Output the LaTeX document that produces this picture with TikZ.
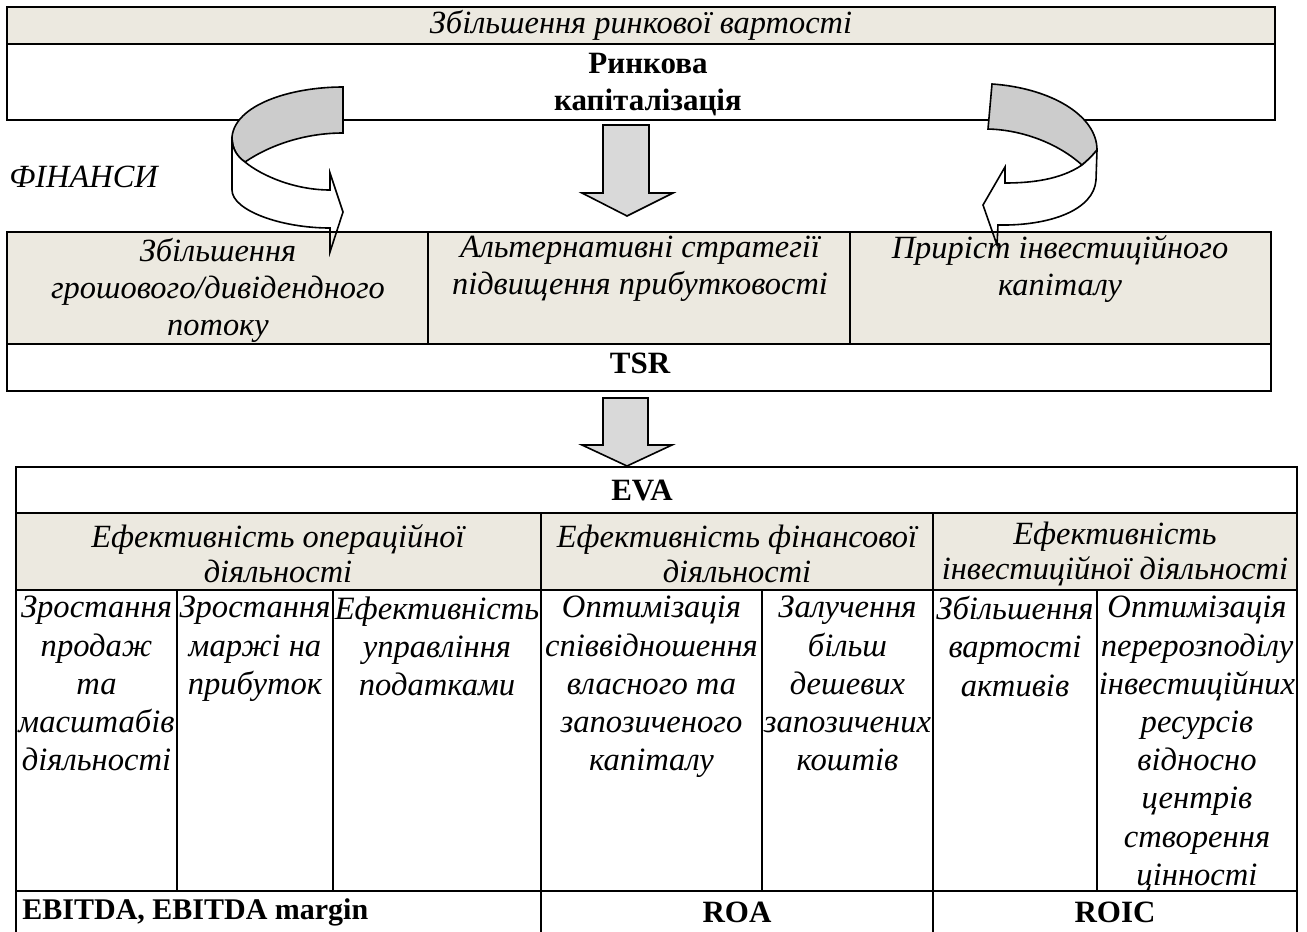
\documentclass[tikz,border=0pt]{standalone}
\usepackage{fontspec}
\setmainfont{Liberation Serif}
\definecolor{cellbeige}{RGB}{236,233,224}
\definecolor{backgray}{RGB}{204,204,204}
\definecolor{shaftgray}{RGB}{217,217,217}
\begin{document}
\begin{tikzpicture}[x=0.5pt,y=-0.5pt,
  frame/.style={line width=1.4pt},
  divider/.style={line width=1pt},
  itx/.style={font=\fontsize{16.2}{18.5}\selectfont\itshape, inner sep=0pt, align=center},
  headtx/.style={font=\fontsize{16.2}{17.5}\selectfont\itshape, inner sep=0pt, align=center},
  btx/.style={font=\fontsize{15.5}{18.5}\selectfont\bfseries, inner sep=0pt, align=center},
  subcell/.style={inner sep=0pt, align=center, anchor=north, font=\fontsize{16.3}{19.1}\selectfont\itshape},
  bendarrow/.style={line width=0.8pt, line join=miter},
  downarrow/.style={line width=0.8pt, fill=shaftgray, line join=miter},
]
\useasboundingbox (0,0) rectangle (1307,932);

% ---------- market value block ----------
\fill[cellbeige] (7,7) rectangle (1275,44);
\draw[frame] (7,7) rectangle (1275,120);
\draw[frame] (7,44) -- (1275,44);
\node[itx] (growth) at (641,25) {Збільшення ринкової вартості};
\node[btx] (mcap) at (648,85) {Ринкова\\капіталізація};

\node[itx, anchor=west] (finance) at (9,177) {ФІНАНСИ};

% ---------- left bent arrow ----------
\path[bendarrow, fill=backgray, draw=black]
  (343,87) .. controls (290,87) and (235,105) .. (232,137)
  .. controls (232,150) and (238,157) .. (245,162)
  .. controls (270,145) and (305,133) .. (343,133) -- cycle;
\path[bendarrow, fill=white]
  (245,162) .. controls (262,176) and (295,190) .. (330,190)
  -- (330,173) -- (343,212) -- (330,252) -- (330,228)
  .. controls (280,228) and (232,210) .. (232,190)
  -- (232,137) .. controls (232,150) and (238,157) .. (245,162) -- cycle;

% ---------- right bent arrow ----------
\path[bendarrow, fill=backgray, draw=black]
  (992,84) .. controls (1050,88) and (1097,115) .. (1097,150)
  .. controls (1093,155) and (1088,160) .. (1082,165)
  .. controls (1060,145) and (1025,130) .. (988,129) -- cycle;
\path[bendarrow, fill=white]
  (1082,165) .. controls (1060,180) and (1030,183) .. (1005,183)
  -- (1005,167) -- (983,205) -- (997,245) -- (998,225)
  .. controls (1050,226) and (1094,210) .. (1096,180)
  -- (1097,150) .. controls (1093,155) and (1088,160) .. (1082,165) -- cycle;

% ---------- centre arrow ----------
\draw[downarrow] (603,125) -- (649,125) -- (649,193) -- (673,193)
  -- (627,216) -- (582,193) -- (603,193) -- cycle;

% ---------- TSR block ----------
\fill[cellbeige] (7,232) rectangle (1271,344);
% front outlines of the bent arrows stay visible over the cells
\draw[bendarrow]
  (245,162) .. controls (262,176) and (295,190) .. (330,190)
  -- (330,173) -- (343,212) -- (330,252) -- (330,228)
  .. controls (280,228) and (232,210) .. (232,190)
  -- (232,137) .. controls (232,150) and (238,157) .. (245,162) -- cycle;
\draw[bendarrow]
  (1082,165) .. controls (1060,180) and (1030,183) .. (1005,183)
  -- (1005,167) -- (983,205) -- (997,245) -- (998,225)
  .. controls (1050,226) and (1094,210) .. (1096,180)
  -- (1097,150) .. controls (1093,155) and (1088,160) .. (1082,165) -- cycle;
\draw[frame] (7,232) rectangle (1271,391);
\draw[frame] (7,344) -- (1271,344);
\draw[divider] (428,232) -- (428,344);
\draw[divider] (850,232) -- (850,344);
\node[itx] (cashflow) at (218,290) {Збільшення\\грошового/дивідендного\\потоку};
\node[itx] (altstrat) at (640,269) {Альтернативні стратегії\\підвищення прибутковості};
\node[itx] (invcap) at (1060,269) {Приріст інвестиційного\\капіталу};
\node[btx] (tsr) at (640,363) {TSR};

% ---------- lower arrow ----------
\draw[downarrow] (603,398) -- (648,398) -- (648,445) -- (672,445)
  -- (627,466) -- (582,445) -- (603,445) -- cycle;

% ---------- EVA table ----------
\fill[cellbeige] (16,513) rectangle (1297,590);
\draw[frame] (16,940) -- (16,467) -- (1297,467) -- (1297,940);
\draw[frame] (16,513) -- (1297,513);
\draw[frame] (16,590) -- (1297,590);
\draw[frame] (16,891) -- (1297,891);
\draw[divider] (541,513) -- (541,940);
\draw[divider] (933,513) -- (933,940);
\draw[divider] (177,590) -- (177,891);
\draw[divider] (333,590) -- (333,891);
\draw[divider] (762,590) -- (762,891);
\draw[divider] (1097,590) -- (1097,891);

\node[btx] (eva) at (642,490) {EVA};
\node[headtx] (opeff) at (278,554) {Ефективність операційної\\діяльності};
\node[headtx] (fineff) at (737,554) {Ефективність фінансової\\діяльності};
\node[headtx] (inveff) at (1115,554) {Ефективність\\інвестиційної діяльності};

\node[subcell] (sales) at (96.5,596) {Зростання\\продаж\\та\\масштабів\\діяльності};
\node[subcell] (margin) at (255,596) {Зростання\\маржі на\\прибуток};
\node[subcell] (tax) at (437,596) {Ефективність\\управління\\податками};
\node[subcell] (leverage) at (651.5,596) {Оптимізація\\співвідношення\\власного та\\запозиченого\\капіталу};
\node[subcell] (cheapdebt) at (847.5,596) {Залучення\\більш\\дешевих\\запозичених\\коштів};
\node[subcell] (assets) at (1015,596) {Збільшення\\вартості\\активів};
\node[subcell] (realloc) at (1197,596) {Оптимізація\\перерозподілу\\інвестиційних\\ресурсів\\відносно\\центрів\\створення\\цінності};

\node[btx, anchor=west, font=\fontsize{15}{18}\selectfont\bfseries] (ebitda) at (22,912) {EBITDA, EBITDA margin};
\node[btx] (roa) at (737,912) {ROA};
\node[btx] (roic) at (1115,912) {ROIC};
\end{tikzpicture}
\end{document}
